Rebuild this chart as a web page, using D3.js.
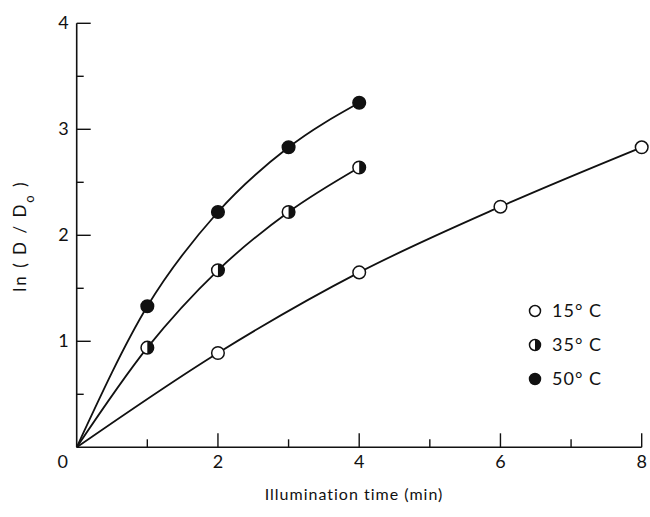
<!DOCTYPE html>
<html>
<head>
<meta charset="utf-8">
<script src="https://cdn.jsdelivr.net/npm/d3@7"></script>
<style>
  body { margin: 0; background: #fff; }
  text { font-family: Lato, "Liberation Sans", sans-serif; fill: #111; }
</style>
</head>
<body>
<div id="chart"></div>
<script>
// illumination time (min) and ln(D/D0) per temperature
var t15 = [0, 2, 4, 6, 8];
var v15 = [0, 0.89, 1.65, 2.27, 2.83];
var t35 = [0, 1, 2, 3, 4];
var v35 = [0, 0.94, 1.67, 2.22, 2.64];
var t50 = [0, 1, 2, 3, 4];
var v50 = [0, 1.33, 2.22, 2.83, 3.25];
var seriesNames = ["15\u00b0 C", "35\u00b0 C", "50\u00b0 C"];
var xTicks = [0, 2, 4, 6, 8];
var yTicks = [1, 2, 3, 4];

var width = 650, height = 517;
var svg = d3.select("#chart").append("svg")
    .attr("width", width)
    .attr("height", height);

var x = d3.scaleLinear().domain([0, 8]).range([76.7, 641.7]);
var y = d3.scaleLinear().domain([0, 4]).range([447.3, 23.3]);

var ink = "#111";

// axes lines
svg.append("line")
    .attr("x1", x(0)).attr("x2", x(8))
    .attr("y1", y(0)).attr("y2", y(0))
    .style("stroke", ink).style("stroke-width", 1.6);
svg.append("line")
    .attr("x1", x(0)).attr("x2", x(0))
    .attr("y1", y(0)).attr("y2", y(4))
    .style("stroke", ink).style("stroke-width", 1.6);

// x ticks (inside, pointing up)
svg.append("g").selectAll("line")
    .data(d3.range(1, 9))
    .enter().append("line")
    .attr("x1", function(d) { return x(d); })
    .attr("x2", function(d) { return x(d); })
    .attr("y1", y(0))
    .attr("y2", function(d) { return y(0) - (d % 2 == 0 ? 14 : 8); })
    .style("stroke", ink).style("stroke-width", 1.4);

// y ticks (inside, pointing right)
svg.append("g").selectAll("line")
    .data(d3.range(1, 9).map(function(i) { return i / 2; }))
    .enter().append("line")
    .attr("x1", x(0))
    .attr("x2", function(d) { return x(0) + (d % 1 == 0 ? 14 : 7); })
    .attr("y1", function(d) { return y(d); })
    .attr("y2", function(d) { return y(d); })
    .style("stroke", ink).style("stroke-width", 1.4);

// tick labels
svg.append("g").selectAll("text")
    .data(xTicks)
    .enter().append("text")
    .attr("x", function(d) { return d == 0 ? x(d) - 14 : x(d); })
    .attr("y", y(0) + 21)
    .attr("text-anchor", "middle")
    .style("font-size", "18px")
    .text(function(d) { return d; });

svg.append("g").selectAll("text")
    .data(yTicks)
    .enter().append("text")
    .attr("x", x(0) - 8)
    .attr("y", function(d) { return y(d) + 6; })
    .attr("text-anchor", "end")
    .style("font-size", "18px")
    .text(function(d) { return d; });

// axis titles
svg.append("text")
    .attr("x", 354)
    .attr("y", 500)
    .attr("text-anchor", "middle")
    .style("font-size", "16px")
    .style("letter-spacing", "1px")
    .text("Illumination time (min)");

var yl = svg.append("text")
    .attr("transform", "translate(26,236) rotate(-90)")
    .attr("text-anchor", "middle")
    .style("font-size", "17px")
    .style("letter-spacing", "2px");
yl.append("tspan").text("ln ( D / D");
yl.append("tspan").attr("baseline-shift", "sub").style("font-size", "13px").text("o");
yl.append("tspan").text(" )");

// curves
var line = d3.line()
    .x(function(d) { return x(d[0]); })
    .y(function(d) { return y(d[1]); })
    .curve(d3.curveMonotoneX);

var series = [
  { t: t15, v: v15, kind: "open" },
  { t: t35, v: v35, kind: "half" },
  { t: t50, v: v50, kind: "full" }
];

series.forEach(function(s) {
  var pts = s.t.map(function(t, i) { return [t, s.v[i]]; });
  svg.append("path")
      .attr("d", line(pts))
      .style("fill", "none")
      .style("stroke", ink)
      .style("stroke-width", 1.8);
});

function marker(g, cx, cy, r, kind) {
  if (kind == "half") {
    g.append("circle").attr("cx", cx).attr("cy", cy).attr("r", r)
        .style("fill", "#fff").style("stroke", ink).style("stroke-width", 1.5);
    g.append("path")
        .attr("d", "M" + cx + "," + (cy - r) + " A" + r + "," + r + " 0 0 1 " + cx + "," + (cy + r) + " Z")
        .style("fill", ink);
  } else {
    g.append("circle").attr("cx", cx).attr("cy", cy).attr("r", r)
        .style("fill", kind == "full" ? ink : "#fff")
        .style("stroke", ink).style("stroke-width", 1.5);
  }
}

var markGroup = svg.append("g");
series.forEach(function(s) {
  s.t.forEach(function(t, i) {
    if (t == 0) return;
    marker(markGroup, x(t), y(s.v[i]), 6.3, s.kind);
  });
});

// legend
var legend = svg.append("g");
series.forEach(function(s, i) {
  var ly = 311 + i * 34;
  marker(legend, 535, ly, 5.5, s.kind);
  legend.append("text")
      .attr("x", 552)
      .attr("y", ly + 6)
      .style("font-size", "18px")
      .style("letter-spacing", "1px")
      .text(seriesNames[i]);
});
</script>
</body>
</html>
